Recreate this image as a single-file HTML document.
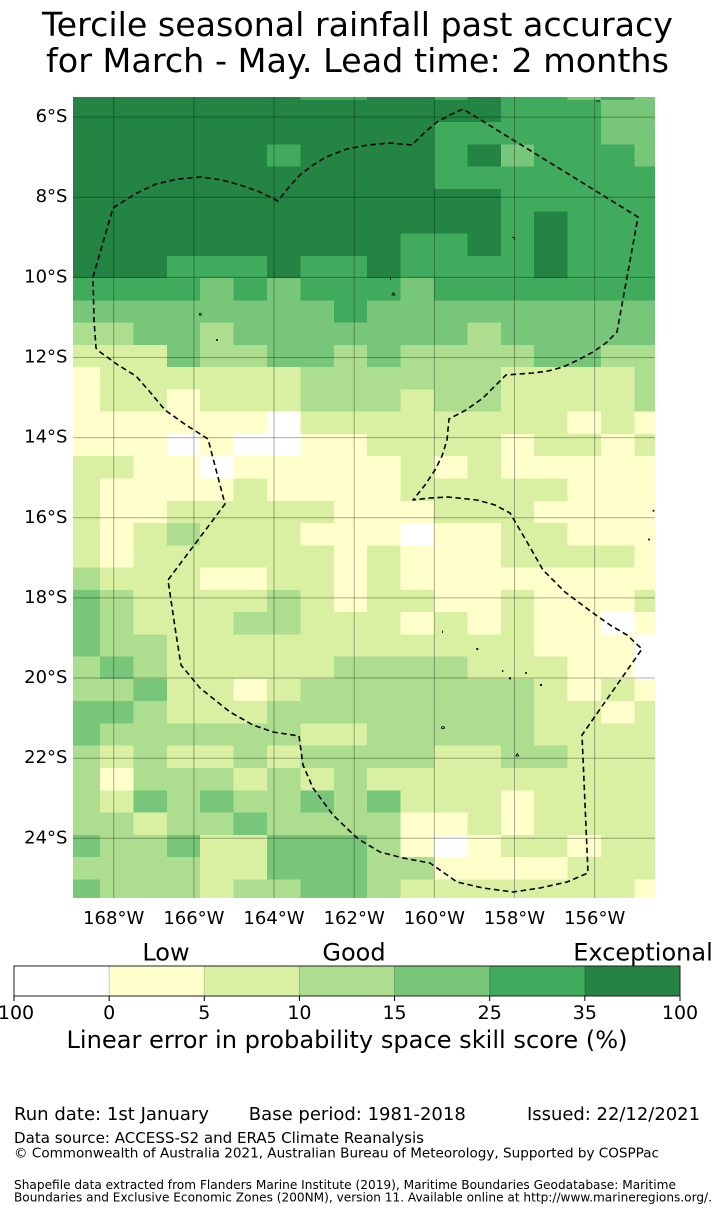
<!DOCTYPE html>
<html><head><meta charset="utf-8"><style>
html,body{margin:0;padding:0;background:#fff;}
svg{display:block;}
.t{font-family:"DejaVu Sans","Liberation Sans",sans-serif;fill:#000;}
.D{fill:#238443}.G{fill:#41ab5d}.M{fill:#78c679}.L{fill:#addd8e}.Y{fill:#d9f0a3}.P{fill:#ffffcc}.W{fill:#ffffff}
</style></head><body>
<svg width="714" height="1215" viewBox="0 0 714 1215" xmlns="http://www.w3.org/2000/svg">
<rect x="0" y="0" width="714" height="1215" fill="#fff"/>
<text class="t" x="357.5" y="36" font-size="33.3" text-anchor="middle" textLength="631" lengthAdjust="spacingAndGlyphs">Tercile seasonal rainfall past accuracy</text>
<text class="t" x="357.5" y="72" font-size="33.3" text-anchor="middle" textLength="623" lengthAdjust="spacingAndGlyphs">for March - May. Lead time: 2 months</text>

<svg x="73" y="97" width="582" height="801" viewBox="-0.8084 -0.1302 17.4251 35.9672" preserveAspectRatio="none" shape-rendering="crispEdges">
<rect class="W" x="-1" y="-1" width="19" height="38"/>
<!-- r0 -->
<rect class="D" x="-1" y="-1" width="7" height="1"/><rect class="G" x="6" y="-1" width="2" height="1"/><rect class="D" x="8" y="-1" width="2" height="1"/><rect class="G" x="10" y="-1" width="1" height="1"/><rect class="D" x="11" y="-1" width="1" height="1"/><rect class="G" x="12" y="-1" width="2" height="1"/><rect class="M" x="14" y="-1" width="1" height="1"/><rect class="G" x="15" y="-1" width="1" height="1"/><rect class="M" x="16" y="-1" width="1" height="1"/>
<!-- r1 -->
<rect class="D" x="-1" y="0" width="13" height="1"/><rect class="G" x="12" y="0" width="3" height="1"/><rect class="M" x="15" y="0" width="2" height="1"/>
<!-- r2 -->
<rect class="D" x="-1" y="1" width="11" height="1"/><rect class="G" x="10" y="1" width="5" height="1"/><rect class="M" x="15" y="1" width="2" height="1"/>
<!-- r3 -->
<rect class="D" x="-1" y="2" width="6" height="1"/><rect class="G" x="5" y="2" width="1" height="1"/><rect class="D" x="6" y="2" width="4" height="1"/><rect class="G" x="10" y="2" width="1" height="1"/><rect class="D" x="11" y="2" width="1" height="1"/><rect class="M" x="12" y="2" width="1" height="1"/><rect class="G" x="13" y="2" width="3" height="1"/><rect class="M" x="16" y="2" width="1" height="1"/>
<!-- r4 -->
<rect class="D" x="-1" y="3" width="11" height="1"/><rect class="G" x="10" y="3" width="7" height="1"/>
<!-- r5 -->
<rect class="D" x="-1" y="4" width="13" height="1"/><rect class="G" x="12" y="4" width="5" height="1"/>
<!-- r6 -->
<rect class="D" x="-1" y="5" width="13" height="1"/><rect class="G" x="12" y="5" width="1" height="1"/><rect class="D" x="13" y="5" width="1" height="1"/><rect class="G" x="14" y="5" width="3" height="1"/>
<!-- r7 -->
<rect class="D" x="-1" y="6" width="10" height="1"/><rect class="G" x="9" y="6" width="2" height="1"/><rect class="D" x="11" y="6" width="1" height="1"/><rect class="G" x="12" y="6" width="1" height="1"/><rect class="D" x="13" y="6" width="1" height="1"/><rect class="G" x="14" y="6" width="3" height="1"/>
<!-- r8 -->
<rect class="D" x="-1" y="7" width="3" height="1"/><rect class="G" x="2" y="7" width="3" height="1"/><rect class="D" x="5" y="7" width="1" height="1"/><rect class="G" x="6" y="7" width="2" height="1"/><rect class="D" x="8" y="7" width="1" height="1"/><rect class="G" x="9" y="7" width="4" height="1"/><rect class="D" x="13" y="7" width="1" height="1"/><rect class="G" x="14" y="7" width="3" height="1"/>
<!-- r9 -->
<rect class="G" x="-1" y="8" width="4" height="1"/><rect class="M" x="3" y="8" width="1" height="1"/><rect class="G" x="4" y="8" width="1" height="1"/><rect class="M" x="5" y="8" width="1" height="1"/><rect class="G" x="6" y="8" width="3" height="1"/><rect class="M" x="9" y="8" width="1" height="1"/><rect class="G" x="10" y="8" width="7" height="1"/>
<!-- r10 -->
<rect class="M" x="-1" y="9" width="8" height="1"/><rect class="G" x="7" y="9" width="1" height="1"/><rect class="M" x="8" y="9" width="9" height="1"/>
<!-- r11 -->
<rect class="L" x="-1" y="10" width="2" height="1"/><rect class="M" x="1" y="10" width="2" height="1"/><rect class="L" x="3" y="10" width="1" height="1"/><rect class="M" x="4" y="10" width="7" height="1"/><rect class="L" x="11" y="10" width="1" height="1"/><rect class="M" x="12" y="10" width="5" height="1"/>
<!-- r12 -->
<rect class="Y" x="-1" y="11" width="3" height="1"/><rect class="M" x="2" y="11" width="1" height="1"/><rect class="L" x="3" y="11" width="2" height="1"/><rect class="M" x="5" y="11" width="2" height="1"/><rect class="L" x="7" y="11" width="1" height="1"/><rect class="M" x="8" y="11" width="1" height="1"/><rect class="L" x="9" y="11" width="4" height="1"/><rect class="M" x="13" y="11" width="2" height="1"/><rect class="L" x="15" y="11" width="2" height="1"/>
<!-- r13 -->
<rect class="P" x="-1" y="12" width="1" height="1"/><rect class="Y" x="0" y="12" width="6" height="1"/><rect class="L" x="6" y="12" width="6" height="1"/><rect class="Y" x="12" y="12" width="4" height="1"/><rect class="L" x="16" y="12" width="1" height="1"/>
<!-- r14 -->
<rect class="P" x="-1" y="13" width="1" height="1"/><rect class="Y" x="0" y="13" width="2" height="1"/><rect class="P" x="2" y="13" width="1" height="1"/><rect class="Y" x="3" y="13" width="3" height="1"/><rect class="L" x="6" y="13" width="3" height="1"/><rect class="Y" x="9" y="13" width="1" height="1"/><rect class="L" x="10" y="13" width="2" height="1"/><rect class="Y" x="12" y="13" width="4" height="1"/><rect class="L" x="16" y="13" width="1" height="1"/>
<!-- r15 -->
<rect class="P" x="-1" y="14" width="6" height="1"/><rect class="W" x="5" y="14" width="1" height="1"/><rect class="Y" x="6" y="14" width="8" height="1"/><rect class="P" x="14" y="14" width="1" height="1"/><rect class="Y" x="15" y="14" width="1" height="1"/><rect class="P" x="16" y="14" width="1" height="1"/>
<!-- r16 -->
<rect class="P" x="-1" y="15" width="3" height="1"/><rect class="W" x="2" y="15" width="1" height="1"/><rect class="P" x="3" y="15" width="1" height="1"/><rect class="W" x="4" y="15" width="2" height="1"/><rect class="P" x="6" y="15" width="2" height="1"/><rect class="Y" x="8" y="15" width="4" height="1"/><rect class="P" x="12" y="15" width="1" height="1"/><rect class="Y" x="13" y="15" width="2" height="1"/><rect class="P" x="15" y="15" width="1" height="1"/><rect class="Y" x="16" y="15" width="1" height="1"/>
<!-- r17 -->
<rect class="Y" x="-1" y="16" width="2" height="1"/><rect class="P" x="1" y="16" width="2" height="1"/><rect class="W" x="3" y="16" width="1" height="1"/><rect class="P" x="4" y="16" width="5" height="1"/><rect class="Y" x="9" y="16" width="1" height="1"/><rect class="P" x="10" y="16" width="1" height="1"/><rect class="Y" x="11" y="16" width="1" height="1"/><rect class="P" x="12" y="16" width="5" height="1"/>
<!-- r18 -->
<rect class="Y" x="-1" y="17" width="1" height="1"/><rect class="P" x="0" y="17" width="4" height="1"/><rect class="Y" x="4" y="17" width="1" height="1"/><rect class="P" x="5" y="17" width="4" height="1"/><rect class="Y" x="9" y="17" width="5" height="1"/><rect class="P" x="14" y="17" width="3" height="1"/>
<!-- r19 -->
<rect class="Y" x="-1" y="18" width="1" height="1"/><rect class="P" x="0" y="18" width="2" height="1"/><rect class="Y" x="2" y="18" width="5" height="1"/><rect class="P" x="7" y="18" width="3" height="1"/><rect class="Y" x="10" y="18" width="3" height="1"/><rect class="P" x="13" y="18" width="4" height="1"/>
<!-- r20 -->
<rect class="Y" x="-1" y="19" width="1" height="1"/><rect class="P" x="0" y="19" width="1" height="1"/><rect class="Y" x="1" y="19" width="1" height="1"/><rect class="L" x="2" y="19" width="1" height="1"/><rect class="Y" x="3" y="19" width="3" height="1"/><rect class="P" x="6" y="19" width="3" height="1"/><rect class="W" x="9" y="19" width="1" height="1"/><rect class="P" x="10" y="19" width="2" height="1"/><rect class="Y" x="12" y="19" width="2" height="1"/><rect class="P" x="14" y="19" width="3" height="1"/>
<!-- r21 -->
<rect class="Y" x="-1" y="20" width="1" height="1"/><rect class="P" x="0" y="20" width="1" height="1"/><rect class="Y" x="1" y="20" width="6" height="1"/><rect class="P" x="7" y="20" width="1" height="1"/><rect class="Y" x="8" y="20" width="1" height="1"/><rect class="P" x="9" y="20" width="3" height="1"/><rect class="Y" x="12" y="20" width="4" height="1"/><rect class="P" x="16" y="20" width="1" height="1"/>
<!-- r22 -->
<rect class="L" x="-1" y="21" width="1" height="1"/><rect class="Y" x="0" y="21" width="3" height="1"/><rect class="P" x="3" y="21" width="2" height="1"/><rect class="Y" x="5" y="21" width="2" height="1"/><rect class="P" x="7" y="21" width="1" height="1"/><rect class="Y" x="8" y="21" width="1" height="1"/><rect class="P" x="9" y="21" width="8" height="1"/>
<!-- r23 -->
<rect class="M" x="-1" y="22" width="1" height="1"/><rect class="L" x="0" y="22" width="1" height="1"/><rect class="Y" x="1" y="22" width="4" height="1"/><rect class="L" x="5" y="22" width="1" height="1"/><rect class="Y" x="6" y="22" width="1" height="1"/><rect class="P" x="7" y="22" width="1" height="1"/><rect class="Y" x="8" y="22" width="2" height="1"/><rect class="P" x="10" y="22" width="2" height="1"/><rect class="Y" x="12" y="22" width="1" height="1"/><rect class="P" x="13" y="22" width="3" height="1"/><rect class="Y" x="16" y="22" width="1" height="1"/>
<!-- r24 -->
<rect class="M" x="-1" y="23" width="1" height="1"/><rect class="L" x="0" y="23" width="1" height="1"/><rect class="Y" x="1" y="23" width="3" height="1"/><rect class="L" x="4" y="23" width="2" height="1"/><rect class="Y" x="6" y="23" width="3" height="1"/><rect class="P" x="9" y="23" width="1" height="1"/><rect class="Y" x="10" y="23" width="1" height="1"/><rect class="P" x="11" y="23" width="1" height="1"/><rect class="Y" x="12" y="23" width="1" height="1"/><rect class="P" x="13" y="23" width="2" height="1"/><rect class="W" x="15" y="23" width="1" height="1"/><rect class="P" x="16" y="23" width="1" height="1"/>
<!-- r25 -->
<rect class="M" x="-1" y="24" width="1" height="1"/><rect class="L" x="0" y="24" width="2" height="1"/><rect class="Y" x="2" y="24" width="11" height="1"/><rect class="P" x="13" y="24" width="3" height="1"/><rect class="W" x="16" y="24" width="1" height="1"/>
<!-- r26 -->
<rect class="L" x="-1" y="25" width="1" height="1"/><rect class="M" x="0" y="25" width="1" height="1"/><rect class="L" x="1" y="25" width="1" height="1"/><rect class="Y" x="2" y="25" width="5" height="1"/><rect class="L" x="7" y="25" width="4" height="1"/><rect class="Y" x="11" y="25" width="3" height="1"/><rect class="P" x="14" y="25" width="2" height="1"/><rect class="W" x="16" y="25" width="1" height="1"/>
<!-- r27 -->
<rect class="L" x="-1" y="26" width="2" height="1"/><rect class="M" x="1" y="26" width="1" height="1"/><rect class="Y" x="2" y="26" width="2" height="1"/><rect class="P" x="4" y="26" width="1" height="1"/><rect class="Y" x="5" y="26" width="1" height="1"/><rect class="L" x="6" y="26" width="7" height="1"/><rect class="Y" x="13" y="26" width="1" height="1"/><rect class="P" x="14" y="26" width="1" height="1"/><rect class="Y" x="15" y="26" width="1" height="1"/><rect class="P" x="16" y="26" width="1" height="1"/>
<!-- r28 -->
<rect class="M" x="-1" y="27" width="2" height="1"/><rect class="L" x="1" y="27" width="1" height="1"/><rect class="Y" x="2" y="27" width="3" height="1"/><rect class="L" x="5" y="27" width="8" height="1"/><rect class="Y" x="13" y="27" width="2" height="1"/><rect class="P" x="15" y="27" width="1" height="1"/><rect class="Y" x="16" y="27" width="1" height="1"/>
<!-- r29 -->
<rect class="M" x="-1" y="28" width="1" height="1"/><rect class="L" x="0" y="28" width="6" height="1"/><rect class="Y" x="6" y="28" width="2" height="1"/><rect class="L" x="8" y="28" width="5" height="1"/><rect class="Y" x="13" y="28" width="4" height="1"/>
<!-- r30 -->
<rect class="L" x="-1" y="29" width="1" height="1"/><rect class="Y" x="0" y="29" width="1" height="1"/><rect class="L" x="1" y="29" width="1" height="1"/><rect class="Y" x="2" y="29" width="2" height="1"/><rect class="L" x="4" y="29" width="1" height="1"/><rect class="Y" x="5" y="29" width="1" height="1"/><rect class="L" x="6" y="29" width="4" height="1"/><rect class="Y" x="10" y="29" width="2" height="1"/><rect class="L" x="12" y="29" width="2" height="1"/><rect class="Y" x="14" y="29" width="3" height="1"/>
<!-- r31 -->
<rect class="L" x="-1" y="30" width="1" height="1"/><rect class="P" x="0" y="30" width="1" height="1"/><rect class="L" x="1" y="30" width="3" height="1"/><rect class="Y" x="4" y="30" width="1" height="1"/><rect class="L" x="5" y="30" width="1" height="1"/><rect class="Y" x="6" y="30" width="1" height="1"/><rect class="L" x="7" y="30" width="1" height="1"/><rect class="Y" x="8" y="30" width="9" height="1"/>
<!-- r32 -->
<rect class="L" x="-1" y="31" width="1" height="1"/><rect class="Y" x="0" y="31" width="1" height="1"/><rect class="M" x="1" y="31" width="1" height="1"/><rect class="L" x="2" y="31" width="1" height="1"/><rect class="M" x="3" y="31" width="1" height="1"/><rect class="L" x="4" y="31" width="2" height="1"/><rect class="M" x="6" y="31" width="1" height="1"/><rect class="L" x="7" y="31" width="1" height="1"/><rect class="M" x="8" y="31" width="1" height="1"/><rect class="Y" x="9" y="31" width="3" height="1"/><rect class="P" x="12" y="31" width="1" height="1"/><rect class="Y" x="13" y="31" width="4" height="1"/>
<!-- r33 -->
<rect class="L" x="-1" y="32" width="2" height="1"/><rect class="Y" x="1" y="32" width="1" height="1"/><rect class="L" x="2" y="32" width="2" height="1"/><rect class="M" x="4" y="32" width="1" height="1"/><rect class="L" x="5" y="32" width="4" height="1"/><rect class="P" x="9" y="32" width="2" height="1"/><rect class="Y" x="11" y="32" width="1" height="1"/><rect class="P" x="12" y="32" width="1" height="1"/><rect class="Y" x="13" y="32" width="4" height="1"/>
<!-- r34 -->
<rect class="M" x="-1" y="33" width="1" height="1"/><rect class="L" x="0" y="33" width="2" height="1"/><rect class="M" x="2" y="33" width="1" height="1"/><rect class="Y" x="3" y="33" width="2" height="1"/><rect class="M" x="5" y="33" width="3" height="1"/><rect class="L" x="8" y="33" width="1" height="1"/><rect class="P" x="9" y="33" width="1" height="1"/><rect class="W" x="10" y="33" width="1" height="1"/><rect class="P" x="11" y="33" width="1" height="1"/><rect class="Y" x="12" y="33" width="2" height="1"/><rect class="P" x="14" y="33" width="1" height="1"/><rect class="Y" x="15" y="33" width="2" height="1"/>
<!-- r35 -->
<rect class="L" x="-1" y="34" width="4" height="1"/><rect class="Y" x="3" y="34" width="2" height="1"/><rect class="M" x="5" y="34" width="3" height="1"/><rect class="L" x="8" y="34" width="2" height="1"/><rect class="P" x="10" y="34" width="4" height="1"/><rect class="Y" x="14" y="34" width="3" height="1"/>
<!-- r36 -->
<rect class="M" x="-1" y="35" width="1" height="1"/><rect class="L" x="0" y="35" width="3" height="1"/><rect class="Y" x="3" y="35" width="1" height="1"/><rect class="L" x="4" y="35" width="2" height="1"/><rect class="M" x="6" y="35" width="2" height="1"/><rect class="L" x="8" y="35" width="1" height="1"/><rect class="Y" x="9" y="35" width="7" height="1"/><rect class="P" x="16" y="35" width="1" height="1"/>
</svg>

<!-- gridlines -->
<g stroke="#000" stroke-opacity="0.32" stroke-width="1" fill="none">
<path d="M113.7 97V898M193.9 97V898M274 97V898M354.2 97V898M434.4 97V898M514.5 97V898M594.7 97V898"/>
<path d="M73 117.1H655M73 197.2H655M73 277.4H655M73 357.5H655M73 437.6H655M73 517.8H655M73 597.9H655M73 678H655M73 758.2H655M73 838.3H655"/>
</g>

<!-- EEZ boundary -->
<path fill="none" stroke="#000" stroke-width="1.6" stroke-dasharray="5.5 3.5" stroke-linejoin="round"
d="M93 277L113 208L135 194L156 184L178 179L201 177L222 180L240 185L260 192L278 201L289 187L300 175L313 165L326 157L347 149L368 145L390 143L412 145L424 133L437 122L450 115L463 109L638 217L617 332L606 343L593 352L578 360L563 367L548 371L533 373L506 375L498 383L483 398L466 410L449 419L447 440L442 456L435 470L425 485L413 500L430 498L448 497L477 500L495 505L510 513L527 542L543 570L565 592L593 613L610 625L627 635L642 649L582 735L588 873L567 882L540 888L513 892L483 888L457 882L430 863L403 858L380 852L360 840L356 837L333 815L313 788L303 765L299 736L273 732L253 725L230 712L200 688L181 665L176 634L168 580L225 504L208 439L186 425L165 410L150 392L136 376L118 365L100 352L96 348L94 320Z"/>

<!-- small islands -->
<g fill="#000" stroke="#000" stroke-width="0.8">
<path d="M596 101h4" fill="none"/>
<circle cx="200.3" cy="314.3" r="1" fill="none"/>
<circle cx="217" cy="340" r="0.6"/>
<path d="M390.5 277v3" fill="none"/>
<path d="M392 295l1.5-2.5l1.5 2.5z" fill="none"/>
<path d="M512 237l3 1l-1 2" fill="none"/>
<circle cx="653.5" cy="510.7" r="0.6"/>
<circle cx="649" cy="539.5" r="0.6"/>
<path d="M442.5 630.5v2.5" fill="none"/>
<circle cx="477.3" cy="649" r="0.7"/>
<circle cx="502.7" cy="671" r="0.5"/>
<circle cx="510" cy="678.3" r="0.8"/>
<circle cx="526" cy="673" r="0.6"/>
<circle cx="541" cy="685" r="0.7"/>
<ellipse cx="443" cy="727.7" rx="1.6" ry="1" fill="none"/>
<path d="M515.8 756l1.5-2.5l1.5 2.5z" fill="none"/>
</g>

<!-- axis labels -->
<g class="t" font-size="18" text-anchor="end">
<text x="67.5" y="122.1">6°S</text>
<text x="67.5" y="202.2">8°S</text>
<text x="67.5" y="282.4">10°S</text>
<text x="67.5" y="362.5">12°S</text>
<text x="67.5" y="442.6">14°S</text>
<text x="67.5" y="522.8">16°S</text>
<text x="67.5" y="602.9">18°S</text>
<text x="67.5" y="683">20°S</text>
<text x="67.5" y="763.2">22°S</text>
<text x="67.5" y="843.3">24°S</text>
</g>
<g class="t" font-size="18" text-anchor="middle">
<text x="113.7" y="924">168°W</text>
<text x="193.9" y="924">166°W</text>
<text x="274" y="924">164°W</text>
<text x="354.2" y="924">162°W</text>
<text x="434.4" y="924">160°W</text>
<text x="514.5" y="924">158°W</text>
<text x="594.7" y="924">156°W</text>
</g>

<!-- colorbar -->
<g class="t" font-size="24" text-anchor="middle">
<text x="166" y="960.5">Low</text>
<text x="354" y="960.5">Good</text>
<text x="643" y="960.5">Exceptional</text>
</g>
<g shape-rendering="crispEdges">
<rect x="14" y="966" width="95.14" height="30" fill="#ffffff"/>
<rect x="109.14" y="966" width="95.15" height="30" fill="#ffffcc"/>
<rect x="204.29" y="966" width="95.14" height="30" fill="#d9f0a3"/>
<rect x="299.43" y="966" width="95.14" height="30" fill="#addd8e"/>
<rect x="394.57" y="966" width="95.14" height="30" fill="#78c679"/>
<rect x="489.71" y="966" width="95.15" height="30" fill="#41ab5d"/>
<rect x="584.86" y="966" width="95.14" height="30" fill="#238443"/>
</g>
<g stroke="#000" stroke-opacity="0.22" stroke-width="1">
<path d="M109.14 966V996M204.29 966V996M299.43 966V996M394.57 966V996M489.71 966V996M584.86 966V996"/>
</g>
<rect x="14" y="966" width="666" height="30" fill="none" stroke="#222" stroke-width="1"/>
<path d="M14 996V1001M109.14 996V1001M204.29 996V1001M299.43 996V1001M394.57 996V1001M489.71 996V1001M584.86 996V1001M680 996V1001" stroke="#000" stroke-width="1"/>
<g class="t" font-size="19" text-anchor="middle">
<text x="16" y="1019">100</text>
<text x="109.14" y="1019">0</text>
<text x="204.29" y="1019">5</text>
<text x="299.43" y="1019">10</text>
<text x="394.57" y="1019">15</text>
<text x="489.71" y="1019">25</text>
<text x="584.86" y="1019">35</text>
<text x="680" y="1019">100</text>
</g>
<text class="t" x="347" y="1048" font-size="24" text-anchor="middle" textLength="561" lengthAdjust="spacingAndGlyphs">Linear error in probability space skill score (%)</text>

<!-- footer -->
<text class="t" x="14" y="1120" font-size="18" textLength="195" lengthAdjust="spacingAndGlyphs">Run date: 1st January</text>
<text class="t" x="248.8" y="1120" font-size="18" textLength="217" lengthAdjust="spacingAndGlyphs">Base period: 1981-2018</text>
<text class="t" x="527" y="1120" font-size="18" textLength="173" lengthAdjust="spacingAndGlyphs">Issued: 22/12/2021</text>
<text class="t" x="14" y="1143" font-size="15" textLength="410" lengthAdjust="spacingAndGlyphs">Data source: ACCESS-S2 and ERA5 Climate Reanalysis</text>
<text class="t" x="14" y="1157.5" font-size="13.3" textLength="645" lengthAdjust="spacingAndGlyphs">© Commonwealth of Australia 2021, Australian Bureau of Meteorology, Supported by COSPPac</text>
<text class="t" x="14" y="1189" font-size="12" textLength="662" lengthAdjust="spacingAndGlyphs">Shapefile data extracted from Flanders Marine Institute (2019), Maritime Boundaries Geodatabase: Maritime</text>
<text class="t" x="14" y="1201.5" font-size="12" textLength="698" lengthAdjust="spacingAndGlyphs">Boundaries and Exclusive Economic Zones (200NM), version 11. Available online at http://www.marineregions.org/.</text>
</svg>
</body></html>
